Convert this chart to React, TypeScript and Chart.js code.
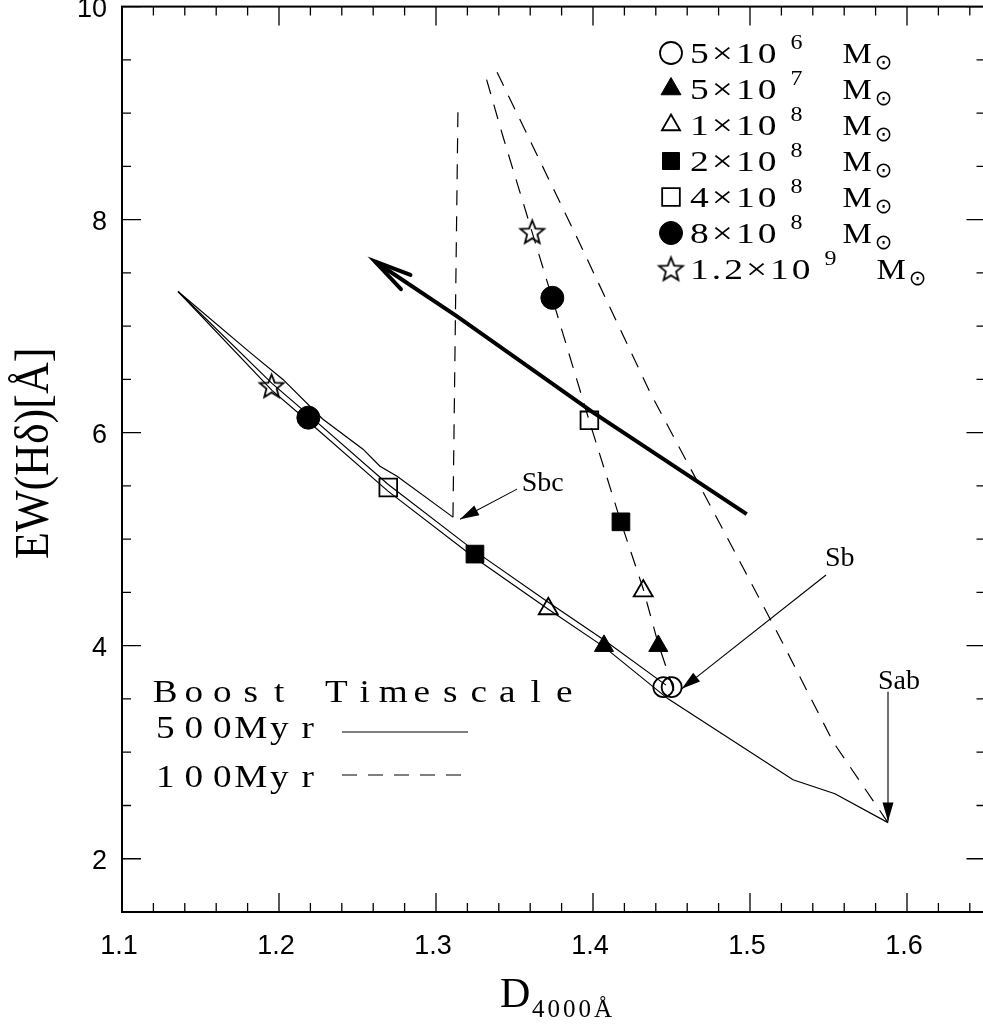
import React, { useEffect, useRef } from 'react';
import { Chart, registerables } from 'chart.js';

Chart.register(...registerables);

// ---------- axes ----------
const xTickValues = [1.1, 1.2, 1.3, 1.4, 1.5, 1.6];
const xTickLabels = ['1.1', '1.2', '1.3', '1.4', '1.5', '1.6'];
const yTickValues = [2, 4, 6, 8, 10];
const yTickLabels = ['2', '4', '6', '8', '10'];
const xMin = 1.1, xMax = 1.65, yMin = 1.5, yMax = 10;

// ---------- 500 Myr boost tracks (solid) ----------
const sbcSolidX = [1.1357, 1.1815, 1.2025, 1.228, 1.2535, 1.2643, 1.2752, 1.3108];
const sbcSolidY = [7.325, 6.754, 6.5, 6.126, 5.845, 5.685, 5.591, 5.207];
const sbSolidX = [1.1357, 1.1955, 1.2185, 1.2694, 1.3248, 1.3713, 1.407, 1.4465];
const sbSolidY = [7.325, 6.463, 6.172, 5.516, 4.888, 4.41, 4.054, 3.63];
const sabSolidX = [1.1357, 1.1955, 1.2185, 1.2694, 1.3248, 1.3713, 1.407, 1.4478, 1.5274, 1.5541, 1.5879];
const sabSolidY = [7.325, 6.397, 6.107, 5.451, 4.823, 4.345, 3.989, 3.501, 2.742, 2.61, 2.339];

// ---------- 100 Myr boost tracks (dashed) ----------
const sbcDashX = [1.3108, 1.314];
const sbcDashY = [5.207, 9.05];
const sbDashX = [1.4515, 1.4414, 1.4318, 1.4178, 1.3975, 1.3739, 1.3611, 1.3427, 1.3312];
const sbDashY = [3.58, 4.026, 4.542, 5.16, 6.116, 7.269, 7.888, 8.778, 9.368];
const sabDashX = [1.5879, 1.5529, 1.5172, 1.4809, 1.4363, 1.3904, 1.3387];
const sabDashY = [2.339, 3.098, 4.129, 5.142, 6.379, 7.813, 9.39];

// ---------- burst-mass markers (5e6, 5e7, 1e8, 2e8, 4e8, 8e8, 1.2e9) ----------
const massBase = ['5×10', '5×10', '1×10', '2×10', '4×10', '8×10', '1.2×10'];
const massExp = ['6', '7', '8', '8', '8', '8', '9'];
const solidMarkX = [1.4448, 1.407, 1.3715, 1.3248, 1.2696, 1.2187, 1.1953];
const solidMarkY = [3.611, 3.998, 4.347, 4.86, 5.485, 6.141, 6.438];
const dashMarkX = [1.4501, 1.4416, 1.432, 1.4178, 1.3977, 1.3741, 1.3613];
const dashMarkY = [3.611, 3.998, 4.514, 5.163, 6.116, 7.266, 7.885];
const markerStyles = ['circle', 'triangle', 'triangle', 'rect', 'rect', 'circle', 'star'];
const markerFilled = [false, true, false, true, false, true, false];

// ---------- thick direction arrow (tail -> head) ----------
const arrowX = [1.4979, 1.4002, 1.3132, 1.2611];
const arrowY = [5.235, 6.188, 7.094, 7.607];

// ---------- type annotations ----------
const annLabels = ['Sbc', 'Sb', 'Sab'];
const annLabelX = [1.3546, 1.5478, 1.5815];
const annLabelY = [5.454, 4.748, 3.595];
const annFromX = [1.3516, 1.5484, 1.5879];
const annFromY = [5.47, 4.664, 3.567];
const annToX = [1.3153, 1.4565, 1.5879];
const annToY = [5.188, 3.595, 2.349];

const boostTitle = 'Boost Timescale';
const boostLabels = ['500Myr', '100Myr'];

const SERIF = '"Liberation Serif", "Times New Roman", serif';
const SANS = '"Liberation Sans", Arial, Helvetica, sans-serif';
const DASH = [15, 11];

const xy = (xs: number[], ys: number[]) => xs.map((x, i) => ({ x, y: ys[i] }));

function makeStar(outer: number, inner: number, lw: number): HTMLCanvasElement {
  const size = Math.ceil(outer * 2 + lw * 2 + 2);
  const c = document.createElement('canvas');
  c.width = size;
  c.height = size;
  const g = c.getContext('2d')!;
  g.translate(size / 2, size / 2 + 1);
  g.beginPath();
  for (let i = 0; i < 10; i++) {
    const r = i % 2 === 0 ? outer : inner;
    const a = -Math.PI / 2 + (i * Math.PI) / 5;
    const px = r * Math.cos(a), py = r * Math.sin(a);
    if (i === 0) g.moveTo(px, py); else g.lineTo(px, py);
  }
  g.closePath();
  g.lineWidth = lw;
  g.strokeStyle = '#000';
  g.stroke();
  return c;
}

function drawMarker(ctx: CanvasRenderingContext2D, style: string, filled: boolean, x: number, y: number, r: number, star: HTMLCanvasElement) {
  ctx.save();
  ctx.fillStyle = '#000';
  ctx.strokeStyle = '#000';
  ctx.lineWidth = filled ? 1 : 1.8;
  ctx.beginPath();
  if (style === 'star') {
    ctx.drawImage(star, x - star.width / 2, y - star.height / 2);
    ctx.restore();
    return;
  }
  if (style === 'circle') {
    ctx.arc(x, y, r, 0, Math.PI * 2);
  } else if (style === 'triangle') {
    ctx.moveTo(x, y - r);
    ctx.lineTo(x + 0.866 * r, y + 0.5 * r);
    ctx.lineTo(x - 0.866 * r, y + 0.5 * r);
    ctx.closePath();
  } else {
    const s = Math.SQRT1_2 * r;
    ctx.rect(x - s, y - s, 2 * s, 2 * s);
  }
  if (filled) ctx.fill();
  ctx.stroke();
  ctx.restore();
}

// draws text char by char, horizontally stretched by sx, with extra spacing ls; returns end x
function drawWide(ctx: CanvasRenderingContext2D, text: string, x: number, y: number, sx: number, ls: number): number {
  let cx = x;
  for (const ch of Array.from(text)) {
    ctx.save();
    ctx.translate(cx, y);
    ctx.scale(sx, 1);
    ctx.textAlign = 'left';
    ctx.fillText(ch, 0, 0);
    ctx.restore();
    cx += ctx.measureText(ch).width * sx + ls;
  }
  return cx - ls;
}

// fixed-pitch cells (glyph centred in each cell), horizontally stretched by sx
function drawCells(ctx: CanvasRenderingContext2D, text: string, x: number, y: number, adv: number, sx: number) {
  Array.from(text).forEach((ch, i) => {
    ctx.save();
    ctx.translate(x + adv * i + adv / 2, y);
    ctx.scale(sx, 1);
    ctx.textAlign = 'center';
    ctx.fillText(ch, 0, 0);
    ctx.restore();
  });
}

function arrowHead(ctx: CanvasRenderingContext2D, fx: number, fy: number, tx: number, ty: number, len: number, half: number) {
  const a = Math.atan2(ty - fy, tx - fx);
  const bx = tx - len * Math.cos(a), by = ty - len * Math.sin(a);
  ctx.beginPath();
  ctx.moveTo(tx, ty);
  ctx.lineTo(bx + half * Math.sin(a), by - half * Math.cos(a));
  ctx.lineTo(bx - half * Math.sin(a), by + half * Math.cos(a));
  ctx.closePath();
  ctx.fill();
}

export default function App() {
  const ref = useRef<HTMLCanvasElement>(null);

  useEffect(() => {
    const star = makeStar(12.5, 5.4, 1.8);
    const markerRadius = [10, 11, 11, 12.5, 12.5, 11.5, 12];

    const lineDs = (label: string, xs: number[], ys: number[], dashed: boolean, width = 1.2) => ({
      label,
      data: xy(xs, ys),
      showLine: true,
      borderColor: '#000',
      borderWidth: width,
      borderDash: dashed ? DASH : [],
      pointRadius: 0,
      pointHoverRadius: 0,
      fill: false,
      tension: 0,
      order: 2,
    });

    const markerDs = massBase.map((b, i) => ({
      label: `${b}^${massExp[i]}`,
      data: [
        { x: solidMarkX[i], y: solidMarkY[i] },
        { x: dashMarkX[i], y: dashMarkY[i] },
      ],
      showLine: false,
      pointStyle: markerStyles[i] === 'star' ? star : markerStyles[i],
      pointRadius: markerRadius[i],
      pointHoverRadius: markerRadius[i],
      pointBackgroundColor: markerFilled[i] ? '#000' : 'rgba(0,0,0,0)',
      pointBorderColor: '#000',
      pointBorderWidth: markerFilled[i] ? 1 : 1.8,
      order: 0,
    }));

    const overlay = {
      id: 'overlay',
      afterDraw(chart: any) {
        const { ctx, chartArea: a } = chart;
        const sx = chart.scales.x, sy = chart.scales.y;
        const px = (v: number) => sx.getPixelForValue(v);
        const py = (v: number) => sy.getPixelForValue(v);
        ctx.save();
        ctx.fillStyle = '#000';
        ctx.strokeStyle = '#000';
        ctx.textBaseline = 'alphabetic';

        // frame
        ctx.lineWidth = 2;
        ctx.strokeRect(a.left, a.top, a.right - a.left, a.bottom - a.top);

        // inward ticks on all sides
        ctx.lineWidth = 1.3;
        ctx.beginPath();
        for (let k = 0; k <= 27; k++) {
          const v = xMin + k * 0.02;
          const len = k % 5 === 0 ? 19 : 9;
          const p = px(v);
          ctx.moveTo(p, a.bottom); ctx.lineTo(p, a.bottom - len);
          ctx.moveTo(p, a.top); ctx.lineTo(p, a.top + len);
        }
        for (let k = 0; k <= 17; k++) {
          const v = yMin + k * 0.5;
          const len = Math.abs(v % 2) < 1e-9 ? 19 : 9;
          const p = py(v);
          ctx.moveTo(a.left, p); ctx.lineTo(a.left + len, p);
          ctx.moveTo(a.right, p); ctx.lineTo(a.right - len, p);
        }
        ctx.stroke();

        // tick labels
        ctx.font = `27px ${SANS}`;
        ctx.textBaseline = 'middle';
        ctx.textAlign = 'center';
        xTickValues.forEach((v, i) => ctx.fillText(xTickLabels[i], px(v) - 3, a.bottom + 35));
        ctx.textAlign = 'right';
        yTickValues.forEach((v, i) => ctx.fillText(yTickLabels[i], a.left - 15, py(v) + 3));
        ctx.textBaseline = 'alphabetic';
        ctx.textAlign = 'left';

        // thick arrow head (open V)
        {
          const n = arrowX.length;
          const tx = px(arrowX[n - 1]), ty = py(arrowY[n - 1]);
          const fx = px(arrowX[n - 2]), fy = py(arrowY[n - 2]);
          const ang = Math.atan2(fy - ty, fx - tx);
          const L = 38, d = (13 * Math.PI) / 180;
          ctx.lineWidth = 4;
          ctx.lineCap = 'round';
          ctx.beginPath();
          ctx.moveTo(tx + L * Math.cos(ang + d), ty + L * Math.sin(ang + d));
          ctx.lineTo(tx, ty);
          ctx.lineTo(tx + L * Math.cos(ang - d), ty + L * Math.sin(ang - d));
          ctx.stroke();
          ctx.lineCap = 'butt';
        }

        // type annotations
        ctx.lineWidth = 1.1;
        ctx.font = `28px ${SERIF}`;
        annLabels.forEach((t, i) => {
          const fx = px(annFromX[i]), fy = py(annFromY[i]);
          const tx = px(annToX[i]), ty = py(annToY[i]);
          ctx.beginPath();
          ctx.moveTo(fx, fy);
          ctx.lineTo(tx, ty);
          ctx.stroke();
          arrowHead(ctx, fx, fy, tx, ty, 19, 5.5);
          ctx.fillText(t, px(annLabelX[i]), py(annLabelY[i]));
        });

        // mass legend (top right)
        massBase.forEach((b, i) => {
          const cy = 53 + i * 36;
          drawMarker(ctx, markerStyles[i], markerFilled[i], 671, cy, [11, 11.5, 10.5, 12, 12.5, 11.5, 12][i], star);
          const base = cy + 10;
          ctx.font = `30px ${SERIF}`;
          const end = drawWide(ctx, b, 690, base, 1.25, 3);
          ctx.font = `20px ${SERIF}`;
          const eEnd = drawWide(ctx, massExp[i], end + 14, base - 14, 1.2, 0);
          ctx.font = `30px ${SERIF}`;
          const mEnd = drawWide(ctx, 'M', eEnd + 40, base, 1.1, 0);
          ctx.font = '21px "DejaVu Sans", sans-serif';
          ctx.textBaseline = 'middle';
          ctx.fillText('⊙', mEnd + 3, base + 1);
          ctx.textBaseline = 'alphabetic';
        });

        // boost timescale legend (bottom left)
        ctx.font = `31px ${SERIF}`;
        drawCells(ctx, boostTitle, 151, 702, 28.5, 1.2);
        drawCells(ctx, boostLabels[0], 151, 738, 28.5, 1.2);
        drawCells(ctx, boostLabels[1], 151, 787, 28.5, 1.2);
        ctx.lineWidth = 1.2;
        ctx.beginPath();
        ctx.moveTo(342, 732); ctx.lineTo(468, 732);
        ctx.stroke();
        ctx.setLineDash(DASH);
        ctx.beginPath();
        ctx.moveTo(342, 775); ctx.lineTo(468, 775);
        ctx.stroke();
        ctx.setLineDash([]);

        // y axis title
        ctx.save();
        ctx.translate(48, (a.top + a.bottom) / 2 - 6);
        ctx.rotate(-Math.PI / 2);
        ctx.scale(1, 1.12);
        ctx.font = `44px ${SERIF}`;
        ctx.textAlign = 'center';
        ctx.fillText('EW(Hδ)[Å]', 0, 0);
        ctx.restore();

        // x axis title with subscript
        ctx.font = `42px ${SERIF}`;
        ctx.textAlign = 'left';
        ctx.fillText('D', 500, 1007);
        ctx.font = `25px ${SERIF}`;
        drawWide(ctx, '4000Å', 532, 1017, 1, 3);

        ctx.restore();
      },
    };

    const chart = new Chart(ref.current!, {
      type: 'scatter',
      data: {
        datasets: [
          ...markerDs,
          lineDs('Sbc 500Myr', sbcSolidX, sbcSolidY, false),
          lineDs('Sb 500Myr', sbSolidX, sbSolidY, false),
          lineDs('Sab 500Myr', sabSolidX, sabSolidY, false),
          lineDs('Sbc 100Myr', sbcDashX, sbcDashY, true),
          lineDs('Sb 100Myr', sbDashX, sbDashY, true),
          lineDs('Sab 100Myr', sabDashX, sabDashY, true),
          lineDs('direction', arrowX, arrowY, false, 4),
        ] as any,
      },
      options: {
        responsive: false,
        animation: false,
        events: [],
        layout: { autoPadding: false, padding: { top: 6.6, right: 4.5, left: 0, bottom: 0 } },
        plugins: {
          legend: { display: false },
          tooltip: { enabled: false },
          title: { display: false },
        },
        scales: {
          x: {
            type: 'linear',
            min: xMin,
            max: xMax,
            afterBuildTicks: (s: any) => { s.ticks = xTickValues.map((v) => ({ value: v })); },
            afterFit: (s: any) => { s.height = 113; },
            grid: { display: false, drawTicks: false },
            border: { display: false },
            ticks: { display: false },
          },
          y: {
            type: 'linear',
            min: yMin,
            max: yMax,
            afterBuildTicks: (s: any) => { s.ticks = yTickValues.map((v) => ({ value: v })); },
            afterFit: (s: any) => { s.width = 122; },
            grid: { display: false, drawTicks: false },
            border: { display: false },
            ticks: { display: false },
          },
        },
      } as any,
      plugins: [overlay],
    });
    return () => chart.destroy();
  }, []);

  return (
    <div style={{ position: 'fixed', left: 0, top: 0, width: 983, height: 1025, overflow: 'hidden', background: '#fff' }}>
      <canvas ref={ref} width={990} height={1025} style={{ display: 'block', width: 990, height: 1025 }} />
    </div>
  );
}
